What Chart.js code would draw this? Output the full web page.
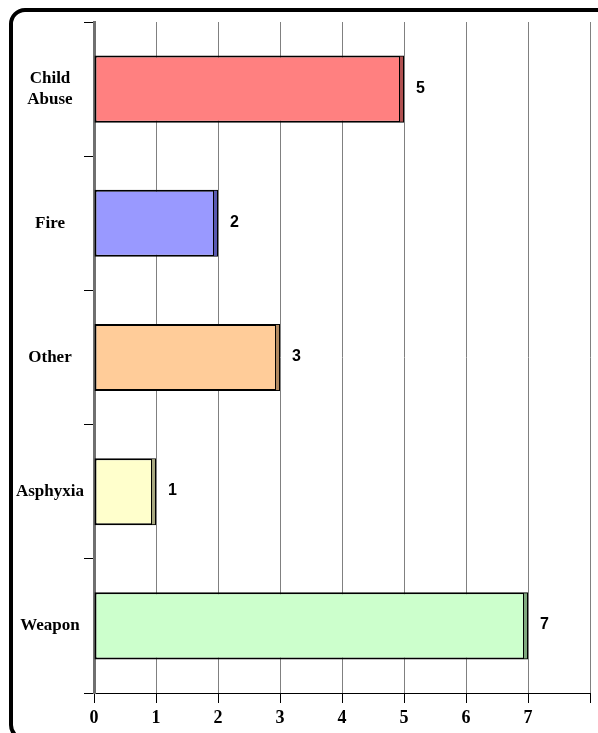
<!DOCTYPE html>
<html>
<head>
<meta charset="utf-8">
<script src="https://cdn.jsdelivr.net/npm/chart.js@4"></script>
<style>
html,body{margin:0;padding:0;background:#fff;overflow:hidden;}
#wrap{position:relative;width:598px;height:733px;overflow:hidden;}
#frame{position:absolute;left:9px;top:8px;width:700px;height:725px;border:4px solid #000;border-radius:16px;pointer-events:none;}
canvas{position:absolute;left:0;top:0;}
</style>
</head>
<body>
<div id="wrap">
<div id="frame"></div>
<canvas id="c" width="598" height="733"></canvas>
</div>
<script>
const categories = [['Child', 'Abuse'], 'Fire', 'Other', 'Asphyxia', 'Weapon'];
const values = [5, 2, 3, 1, 7];
const barColors = ['#FF8080', '#9999FF', '#FFCC99', '#FFFFCC', '#CCFFCC'];
const sideColors = ['#B05050', '#5A5AB0', '#B08860', '#A8A880', '#7FA87F'];
const xTickLabels = ['0', '1', '2', '3', '4', '5', '6', '7', ''];

const valueLabels = {
  id: 'valueLabels',
  afterDatasetsDraw(chart) {
    const ctx = chart.ctx;
    const meta = chart.getDatasetMeta(0);
    ctx.save();
    meta.data.forEach((el, i) => {
      const h = el.height;
      ctx.fillStyle = sideColors[i];
      ctx.fillRect(el.x - 4, el.y - h / 2 + 1, 3, h - 2);
      ctx.strokeStyle = '#000';
      ctx.lineWidth = 1;
      ctx.beginPath();
      ctx.moveTo(el.x - 4.5, el.y - h / 2 + 1);
      ctx.lineTo(el.x - 4.5, el.y + h / 2 - 1);
      ctx.stroke();
      ctx.fillStyle = '#000';
      ctx.font = 'bold 16px "Liberation Sans", Arial, sans-serif';
      ctx.textAlign = 'left';
      ctx.textBaseline = 'middle';
      ctx.fillText(String(values[i]), el.x + 12, el.y - 1);
    });
    ctx.restore();
  }
};

new Chart(document.getElementById('c'), {
  type: 'bar',
  data: {
    labels: categories,
    datasets: [{
      data: values,
      backgroundColor: barColors,
      borderColor: '#000',
      borderWidth: 2,
      borderSkipped: false,
      barPercentage: 0.5,
      categoryPercentage: 1.0
    }]
  },
  options: {
    indexAxis: 'y',
    responsive: false,
    animation: false,
    layout: { padding: { top: 22, right: 8, left: 0, bottom: 0 } },
    plugins: {
      legend: { display: false },
      tooltip: { enabled: false }
    },
    scales: {
      x: {
        min: 0,
        max: 8,
        afterFit(scale) { scale.height = 40; scale.paddingLeft = 0; scale.paddingRight = 0; },
        ticks: {
          stepSize: 1,
          autoSkip: false,
          maxRotation: 0,
          padding: 5,
          color: '#000',
          font: { family: '"Liberation Serif", "Times New Roman", serif', size: 18, weight: 'bold' },
          callback: (v, i) => xTickLabels[i]
        },
        grid: {
          color: '#808080',
          lineWidth: 1,
          tickLength: 10,
          tickColor: '#000',
          drawOnChartArea: true
        },
        border: { color: '#000', width: 1 }
      },
      y: {
        afterFit(scale) { scale.width = 94; },
        ticks: {
          crossAlign: 'center',
          padding: 0,
          color: '#000',
          font: { family: '"Liberation Serif", "Times New Roman", serif', size: 17, weight: 'bold', lineHeight: 1.25 }
        },
        grid: {
          offset: true,
          drawOnChartArea: false,
          tickLength: 10,
          tickColor: '#000'
        },
        border: { color: '#707070', width: 3 }
      }
    }
  },
  plugins: [valueLabels]
});
</script>
</body>
</html>
